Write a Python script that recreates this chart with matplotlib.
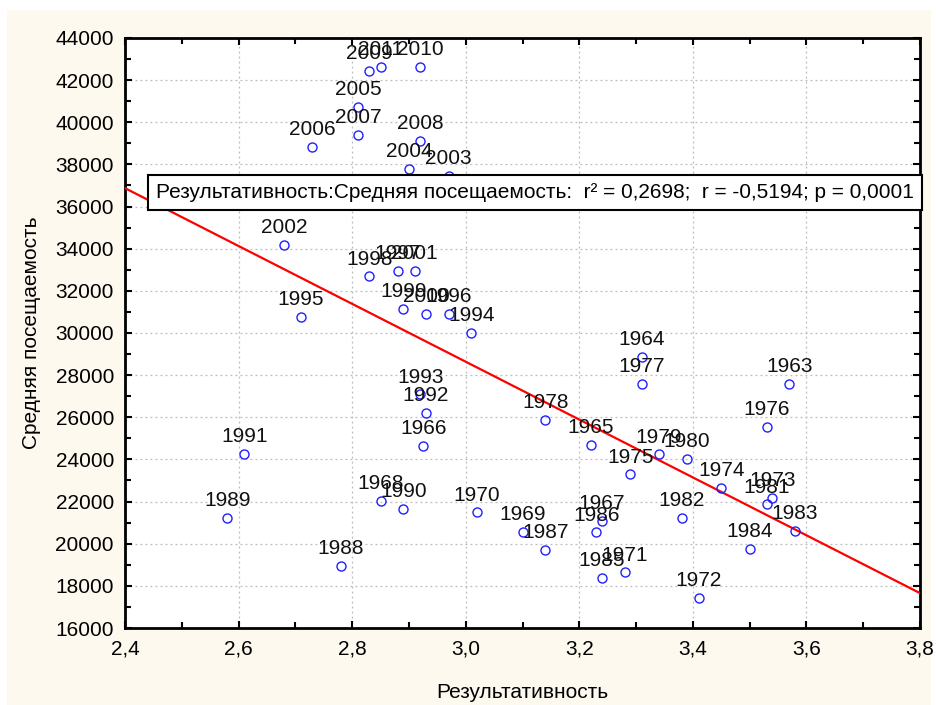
import numpy as np
import matplotlib
matplotlib.use("Agg")
import matplotlib.pyplot as plt
from matplotlib.ticker import MultipleLocator, FuncFormatter
from matplotlib.patches import Rectangle

# --- данные: год, результативность, средняя посещаемость ---
years = [1963, 1964, 1965, 1966, 1967, 1968, 1969, 1970, 1971, 1972,
         1973, 1974, 1975, 1976, 1977, 1978, 1979, 1980, 1981, 1982,
         1983, 1984, 1985, 1986, 1987, 1988, 1989, 1990, 1991, 1992,
         1993, 1994, 1995, 1996, 1997, 1998, 1999, 2000, 2001, 2002,
         2003, 2004, 2005, 2006, 2007, 2008, 2009, 2010, 2011]
goals = [3.57, 3.31, 3.22, 2.925, 3.24, 2.85, 3.10, 3.02, 3.28, 3.41,
         3.54, 3.45, 3.29, 3.53, 3.31, 3.14, 3.34, 3.39, 3.53, 3.38,
         3.58, 3.50, 3.24, 3.23, 3.14, 2.78, 2.58, 2.89, 2.61, 2.93,
         2.92, 3.01, 2.71, 2.97, 2.88, 2.83, 2.89, 2.93, 2.91, 2.68,
         2.97, 2.90, 2.81, 2.73, 2.81, 2.92, 2.83, 2.92, 2.85]
attendance = [27570, 28850, 24700, 24640, 21090, 22040, 20560, 21490, 18640, 17410,
              22160, 22630, 23290, 25550, 27570, 25860, 24240, 24040, 21870, 21210,
              20620, 19760, 18360, 20540, 19690, 18930, 21220, 21660, 24260, 26220,
              27090, 30020, 30780, 30890, 32960, 32690, 31160, 30890, 32960, 34190,
              37470, 37800, 40740, 38840, 39400, 39130, 42440, 42640, 42640]

stats_text = "Результативность:Средняя посещаемость:  r² = 0,2698;  r = -0,5194; p = 0,0001"

plt.rcParams['font.family'] = ['Liberation Sans', 'DejaVu Sans']
FS = 15

fig = plt.figure(figsize=(9.36, 7.05), dpi=100)
fig.patch.set_facecolor('white')
# кремовая подложка
fig.patches.append(Rectangle((7 / 936, 0), 924 / 936, 695 / 705, transform=fig.transFigure,
                             facecolor='#FDF9EF', edgecolor='none', zorder=-10))

ax = fig.add_axes([125 / 936, 1 - 628 / 705, 795 / 936, 590 / 705])
ax.set_zorder(1)
ax.set_facecolor('white')

ax.set_xlim(2.4, 3.8)
ax.set_ylim(16000, 44000)
ax.xaxis.set_major_locator(MultipleLocator(0.2))
ax.xaxis.set_minor_locator(MultipleLocator(0.1))
ax.yaxis.set_major_locator(MultipleLocator(2000))
ax.yaxis.set_minor_locator(MultipleLocator(1000))
ax.xaxis.set_major_formatter(FuncFormatter(lambda v, p: f"{v:.1f}".replace('.', ',')))
ax.yaxis.set_major_formatter(FuncFormatter(lambda v, p: f"{v:.0f}"))

ax.tick_params(which='both', direction='in', top=True, right=True, labelsize=FS, width=1.5)
ax.tick_params(which='major', length=5, pad=8)
ax.tick_params(which='minor', length=4)
for s in ax.spines.values():
    s.set_linewidth(2)
    s.set_color('black')

ax.grid(True, which='major', linestyle=(0, (1.5, 2.5)), color='#bbbbbb', linewidth=0.9)
ax.set_axisbelow(True)

# линия регрессии
k, b = np.polyfit(goals, attendance, 1)
xl = np.array([2.4, 3.8])
ax.plot(xl, k * xl + b, color='red', linewidth=1.6, zorder=3)

ax.plot(goals, attendance, linestyle='none', marker='o', markersize=6.5,
        markerfacecolor='none', markeredgecolor='#2020ff', markeredgewidth=1.0, zorder=4)

for yr, gx, gy in zip(years, goals, attendance):
    ax.annotate(str(yr), (gx, gy), xytext=(0, 8.5), textcoords='offset points',
                ha='center', va='baseline', fontsize=FS, color='#111111', zorder=5)

ax.text(0.039, 0.738, stats_text, transform=ax.transAxes, fontsize=FS,
        ha='left', va='center', zorder=6,
        bbox=dict(boxstyle='square,pad=0.4', facecolor='white', edgecolor='black', linewidth=1.5))

ax.set_xlabel("Результативность", fontsize=FS, labelpad=18)
ax.set_ylabel("Средняя посещаемость", fontsize=FS, labelpad=10)

fig.savefig("out.png", dpi=100)
